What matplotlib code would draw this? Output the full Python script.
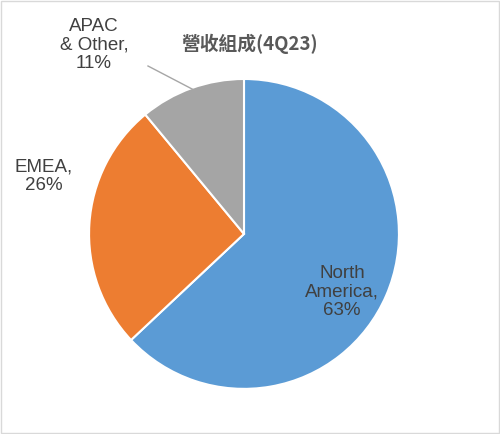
import matplotlib
matplotlib.use("Agg")
import matplotlib.pyplot as plt
from matplotlib.lines import Line2D
from matplotlib.patches import Rectangle

categories = ["North America", "EMEA", "APAC & Other"]
labels = ["North\nAmerica,\n63%", "EMEA,\n26%", "APAC\n& Other,\n11%"]
values = [63, 26, 11]
colors = ["#5B9BD5", "#ED7D31", "#A5A5A5"]
title = "營收組成(4Q23)"

plt.rcParams['font.family'] = ['Liberation Sans', 'Noto Sans CJK TC', 'DejaVu Sans']
fig = plt.figure(figsize=(5, 4.34), dpi=100)
fig.patches.append(Rectangle((0.002, 0.002), 0.996, 0.996, transform=fig.transFigure,
                             fill=False, edgecolor="#D9D9D9", lw=1))
ax = fig.add_axes([0.178, 0.104, 0.62, 0.714])
ax.pie(values, colors=colors, startangle=90, counterclock=False,
       wedgeprops=dict(edgecolor="white", linewidth=1.5))
ax.set_xlim(-1, 1); ax.set_ylim(-1, 1)
ax.set_aspect('equal')

def px(x, y):
    return x / 500, 1 - y / 434

fig.text(*px(342, 292), labels[0], ha='center', va='center', fontsize=13.5, color='#404040', linespacing=1.1)
fig.text(*px(44, 176), labels[1], ha='center', va='center', fontsize=13.5, color='#404040', linespacing=1.1)
fig.text(*px(94, 45), labels[2], ha='center', va='center', fontsize=13.5, color='#404040', linespacing=1.1)
x0, y0 = px(148, 66); x1, y1 = px(194, 90)
fig.add_artist(Line2D([x0, x1], [y0, y1], transform=fig.transFigure, color='#A6A6A6', lw=1))
fig.text(*px(250, 44), title, ha='center', va='center', fontsize=13.5, fontweight='bold',
         color='#595959', family=['Noto Sans CJK TC', 'DejaVu Sans'])
fig.savefig("out.png", dpi=100)
